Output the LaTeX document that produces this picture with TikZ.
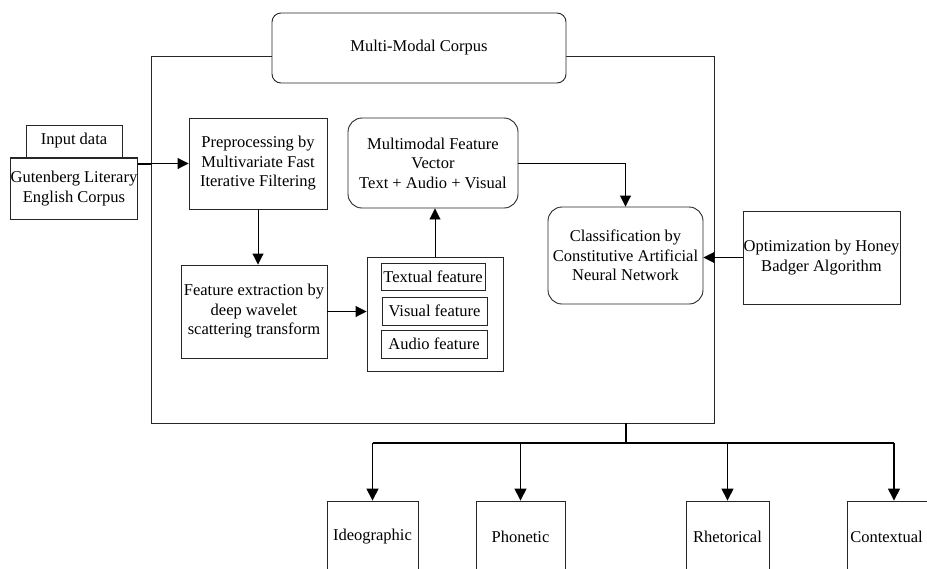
\documentclass[tikz,border=0pt]{standalone}
\usepackage{fontspec}
\setmainfont{Liberation Serif}
\usetikzlibrary{arrows.meta}
\newcommand\fsz{\fontsize{16.5}{19.5}\selectfont}
\tikzset{
  bx/.style={draw=black!85, line width=0.9pt, align=center, inner sep=0pt, font=\fsz},
  rbx/.style={bx, rounded corners=14pt},
  arr/.style={draw=black, line width=0.9pt, -{Triangle[width=11pt,length=11pt]}},
  barr/.style={draw=black, line width=1.4pt, -{Triangle[width=12pt,length=12pt]}},
}
\begin{document}
\begin{tikzpicture}[x=1pt,y=-1pt]
\useasboundingbox (0,0) rectangle (927,568);
% frame and title
\node[bx, minimum width=563, minimum height=367] (frame) at (432.5,239.5) {};
\node[bx, rounded corners=9pt, fill=white, minimum width=294, minimum height=70] (title) at (419,48) {Multi-Modal Corpus};
% input
\node[bx, minimum width=96, minimum height=32] (inp) at (74,141) {Input data};
\node[bx, minimum width=124, minimum height=61] (gut) at (74,188.5) {Gutenberg Literary\\English Corpus};
\draw[line width=1.6pt, black!85] (gut.north west) -- (gut.north east);
% inner boxes
\node[bx, minimum width=138, minimum height=91] (pre) at (258,163.5) {Preprocessing by\\Multivariate Fast\\Iterative Filtering};
\node[rbx, minimum width=170, minimum height=90] (mm) at (433,163) {Multimodal Feature\\Vector\\Text + Audio + Visual};
\node[bx, minimum width=146, minimum height=93] (fe) at (254,311.5) {Feature extraction by\\deep wavelet\\scattering transform};
\node[bx, minimum width=136, minimum height=114] (grp) at (435,314) {};
\node[bx, minimum width=104, minimum height=27] (tf) at (433,276.5) {Textual feature};
\node[bx, minimum width=105, minimum height=28] (vf) at (434.5,311) {Visual feature};
\node[bx, minimum width=106, minimum height=28] (af) at (434,344) {Audio feature};
\node[rbx, minimum width=155, minimum height=97] (cls) at (625.5,255.5) {Classification by\\Constitutive Artificial\\Neural Network};
\node[bx, minimum width=157, minimum height=93] (opt) at (821.5,257.5) {Optimization by Honey\\Badger Algorithm};
% outputs
\node[bx, minimum width=91, minimum height=72] (ideo) at (372.5,537) {Ideographic};
\node[bx, minimum width=89, minimum height=72] (phon) at (520.5,537) {Phonetic};
\node[bx, minimum width=83, minimum height=72] (rhet) at (727.5,537) {Rhetorical};
\node[bx, minimum width=94, minimum height=72,
  label={[font=\fsz, anchor=west, inner sep=0pt, xshift=3.5pt]west:Contextual}] (ctx) at (894,537) {};
% connectors
\draw[line width=2pt] (gut.east |- pre.west) -- (frame.west |- pre.west);
\draw[arr] (gut.east |- pre.west) -- (pre.west);
\draw[arr] (pre.south) -- (pre.south |- fe.north);
\draw[arr] (fe.east) -- (fe.east -| grp.west);
\draw[arr] (grp.north) -- (grp.north |- mm.south);
\draw[arr] (mm.east) -- (cls.north |- mm.east) -- (cls.north);
\draw[arr] (opt.west) -- (opt.west -| cls.east);
\coordinate (bus) at (626,443);
\draw[line width=1.4pt] (frame.south -| bus) -- (bus);
\draw[line width=2pt] (ideo.north |- bus) -- (ctx.north |- bus);
\draw[barr] (ideo.north |- bus) -- (ideo.north);
\draw[barr] (phon.north |- bus) -- (phon.north);
\draw[barr] (rhet.north |- bus) -- (rhet.north);
\draw[barr] (ctx.north |- bus) -- (ctx.north);
\end{tikzpicture}
\end{document}
